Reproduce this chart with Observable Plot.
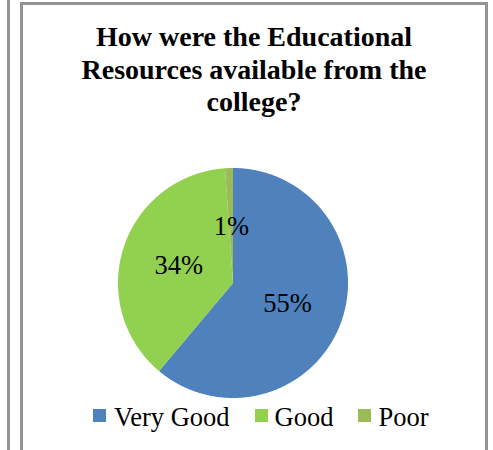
<!DOCTYPE html>
<html>
<head>
<meta charset="utf-8">
<script src="https://cdn.jsdelivr.net/npm/d3@7"></script>
<script src="https://cdn.jsdelivr.net/npm/@observablehq/plot@0.6"></script>
<style>
  html, body { margin: 0; padding: 0; background: #fff; }
  body { width: 493px; height: 450px; position: relative; overflow: hidden; font-family: "Liberation Serif", "Times New Roman", serif; }
  #neighbor { position: absolute; left: 7px; top: -10px; width: 0; height: 480px; border-left: 3px solid #939393; }
  #frame { position: absolute; left: 20px; top: 2px; width: 462px; height: 480px; border: 3px solid #939393; }
  #title { position: absolute; left: 20px; top: 21px; width: 468px; text-align: center; font-weight: bold; font-size: 28px; line-height: 32.5px; color: #000; }
  #chart { position: absolute; left: 113px; top: 162.5px; }
  #legend { position: absolute; left: 93px; top: 404px; display: flex; font-size: 26.5px; line-height: 26.5px; color: #000; white-space: nowrap; }
  .item { display: flex; align-items: flex-start; }
  .sw { width: 13px; height: 13px; margin-top: 5px; margin-right: 8px; }
</style>
</head>
<body>
<div id="neighbor"></div>
<div id="frame"></div>
<div id="title">How were the Educational<br>Resources available from the<br>college?</div>
<div id="chart"></div>
<div id="legend"></div>
<script>
const categories = ["Very Good", "Good", "Poor"];
const values = [55, 34, 1];
const labels = ["55%", "34%", "1%"];
const colors = ["#4F81BD", "#92D050", "#9BBB59"];

const rows = categories.map((c, i) => ({category: c, value: values[i], label: labels[i]}));
const arcs = d3.pie().sort(null).value(d => d.value)(rows);

// wedge outlines derived from the pie angles
const wedgePts = [];
for (const a of arcs) {
  const span = a.endAngle - a.startAngle;
  const n = Math.max(2, Math.ceil(span / (Math.PI / 360)));
  for (let k = 0; k <= n; k++) {
    const t = a.startAngle + span * k / n;
    wedgePts.push({category: a.data.category, x1: Math.sin(t), y1: Math.cos(t), x2: 0, y2: 0});
  }
}
const labelPts = arcs.map(a => {
  const m = (a.startAngle + a.endAngle) / 2;
  return {label: a.data.label, x: 0.5 * Math.sin(m), y: 0.5 * Math.cos(m)};
});

const chart = Plot.plot({
  width: 240,
  height: 240,
  margin: 5,
  x: {domain: [-1, 1], axis: null},
  y: {domain: [-1, 1], axis: null},
  color: {domain: categories, range: colors},
  style: {background: "transparent", overflow: "visible", fontFamily: "'Liberation Serif', 'Times New Roman', serif"},
  marks: [
    Plot.area(wedgePts, {x1: "x1", y1: "y1", x2: "x2", y2: "y2", fill: "category", z: "category"}),
    Plot.text(labelPts, {x: "x", y: "y", text: "label", fontSize: 26.5, fill: "#000", fontFamily: "'Liberation Serif', 'Times New Roman', serif"})
  ]
});
document.getElementById("chart").appendChild(chart);

const legend = document.getElementById("legend");
categories.forEach((c, i) => {
  const item = document.createElement("div");
  item.className = "item";
  if (i > 0) item.style.marginLeft = "25px";
  const sw = document.createElement("div");
  sw.className = "sw";
  sw.style.background = colors[i];
  if (i > 0) sw.style.marginRight = "7px";
  const tx = document.createElement("span");
  tx.textContent = c;
  item.appendChild(sw);
  item.appendChild(tx);
  legend.appendChild(item);
});
</script>
</body>
</html>
